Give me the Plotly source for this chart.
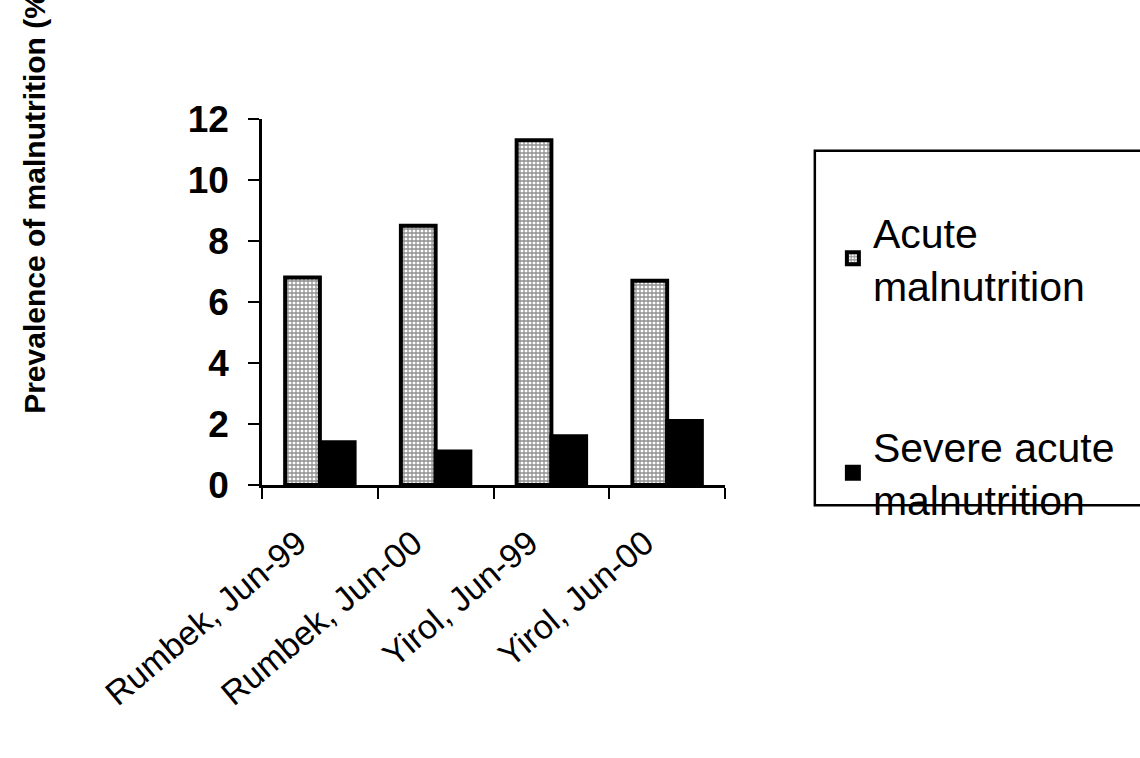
import plotly.graph_objects as go

categories = ["Rumbek, Jun-99", "Rumbek, Jun-00", "Yirol, Jun-99", "Yirol, Jun-00"]
acute = [6.8, 8.5, 11.3, 6.7]
severe = [1.4, 1.1, 1.6, 2.1]
series_names = ["Acute<br>malnutrition", "Severe acute<br>malnutrition"]
y_ticks = [0, 2, 4, 6, 8, 10, 12]
y_title = "Prevalence of malnutrition (%)"

FONT = "Liberation Sans, Arial, sans-serif"

fig = go.Figure()
fig.add_trace(go.Bar(
    x=categories, y=acute, name=series_names[0], legendgroup="a",
    marker=dict(color="white", line=dict(color="black", width=4),
                pattern=dict(shape="+", fgcolor="#222", bgcolor="white", size=4, solidity=0.55)),
))
fig.add_trace(go.Bar(
    x=categories, y=severe, name=series_names[1], legendgroup="b",
    marker=dict(color="black", line=dict(color="black", width=4)),
))

fig.update_layout(
    width=1140, height=758,
    margin=dict(l=262, r=415, t=119, b=273, autoexpand=False),
    paper_bgcolor="white", plot_bgcolor="white",
    barmode="group", bargap=0.4, bargroupgap=0,
    font=dict(family=FONT, color="black"),
    showlegend=True,
    legend=dict(x=1.233, y=0.783, xanchor="left", yanchor="top",
                font=dict(size=41, family=FONT), tracegroupgap=105,
                traceorder="grouped", bgcolor="rgba(0,0,0,0)", borderwidth=0),
    xaxis=dict(showline=True, linecolor="black", linewidth=2.5,
               ticks="outside", ticklen=11, tickwidth=2, tickcolor="black",
               tickson="boundaries", tickangle=-40, ticklabelstandoff=22, ticklabelshift=-22,
               tickfont=dict(size=34, family=FONT), showgrid=False),
    yaxis=dict(range=[0, 12], tickvals=y_ticks, showline=True, linecolor="black", linewidth=2.5,
               ticks="outside", ticklen=11, tickwidth=2, tickcolor="black", ticklabelstandoff=12,
               tickfont=dict(size=37, family=FONT, weight="bold"), showgrid=False, zeroline=False),
    shapes=[dict(type="rect", xref="paper", yref="paper", x0=1.194, x1=1.92, y0=-0.055, y1=0.913,
                 line=dict(color="black", width=2.5), fillcolor="rgba(0,0,0,0)")],
    annotations=[dict(text="<b>" + y_title + "</b>", textangle=-90, xref="paper", yref="paper",
                      x=-0.49, y=0.785, xanchor="center", yanchor="middle", showarrow=False,
                      font=dict(size=30, family=FONT))],
)

fig.write_html("out.html")
